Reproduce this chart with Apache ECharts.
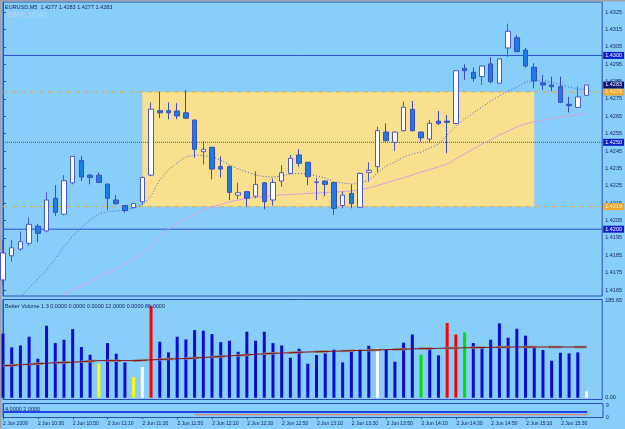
<!DOCTYPE html>
<html>
<head>
<meta charset="utf-8">
<script src="https://cdn.jsdelivr.net/npm/echarts@6/dist/echarts.min.js"></script>
<style>
html,body{margin:0;padding:0;background:#87cefa;}
#chart{width:625px;height:429px;}
</style>
</head>
<body>
<div id="chart"></div>
<script>
// EURUSD M5, 2 Jun 2009, one bar every 5 minutes from 10:10 to 15:45
const symbol = 'EURUSD,M5';
const gmtText = 'GMT: 16:45';
const timeLabels = ['2 Jun 2009','2 Jun 10:30','2 Jun 10:50','2 Jun 11:10','2 Jun 11:30','2 Jun 11:50',
  '2 Jun 12:10','2 Jun 12:30','2 Jun 12:50','2 Jun 13:10','2 Jun 13:30','2 Jun 13:50','2 Jun 14:10',
  '2 Jun 14:30','2 Jun 14:50','2 Jun 15:10','2 Jun 15:30'];
const barsPerLabel = 4;

const opens = [1.41708,1.41847,1.41886,1.41919,1.42017,1.41990,1.42178,1.42086,1.42267,1.42396,
  1.42311,1.42311,1.42260,1.42168,1.42136,1.42124,1.42158,1.42311,1.42682,1.42682,
  1.42680,1.42670,1.42628,1.42446,1.42471,1.42360,1.42360,1.42196,1.42216,1.42190,
  1.42267,1.42168,1.42277,1.42321,1.42427,1.42385,1.42269,1.42277,1.42269,1.42136,
  1.42206,1.42126,1.42327,1.42360,1.42559,1.42500,1.42567,1.42690,1.42559,1.42519,
  1.42622,1.42622,1.42608,1.42926,1.42903,1.42878,1.42951,1.42840,1.43043,1.43102,
  1.43031,1.42932,1.42843,1.42830,1.42820,1.42719,1.42701,1.42770];
const closes = [1.41863,1.41893,1.41928,1.42028,1.41976,1.42168,1.42097,1.42279,1.42419,1.42300,
  1.42298,1.42269,1.42178,1.42147,1.42107,1.42147,1.42298,1.42691,1.42670,1.42670,
  1.42652,1.42639,1.42460,1.42460,1.42346,1.42346,1.42212,1.42210,1.42178,1.42258,
  1.42158,1.42269,1.42325,1.42408,1.42379,1.42302,1.42272,1.42258,1.42120,1.42196,
  1.42147,1.42321,1.42339,1.42567,1.42509,1.42559,1.42702,1.42567,1.42526,1.42609,
  1.42609,1.42615,1.42912,1.42912,1.42868,1.42939,1.42849,1.42980,1.43139,1.43022,
  1.42939,1.42853,1.42830,1.42820,1.42730,1.42711,1.42761,1.42830];
const lows = [1.41679,1.41813,1.41876,1.41905,1.41925,1.41982,1.42077,1.42080,1.42258,1.42277,
  1.42258,1.42265,1.42110,1.42140,1.42095,1.42120,1.42143,1.42305,1.42639,1.42633,
  1.42633,1.42635,1.42411,1.42373,1.42287,1.42298,1.42168,1.42172,1.42129,1.42178,
  1.42114,1.42136,1.42245,1.42318,1.42360,1.42254,1.42168,1.42190,1.42082,1.42120,
  1.42120,1.42122,1.42273,1.42327,1.42505,1.42450,1.42563,1.42563,1.42503,1.42500,
  1.42600,1.42438,1.42605,1.42859,1.42849,1.42830,1.42840,1.42837,1.42991,1.43020,
  1.42929,1.42811,1.42801,1.42795,1.42726,1.42672,1.42698,1.42770];
const highs = [1.41938,1.41938,1.41986,1.42068,1.42030,1.42212,1.42254,1.42311,1.42420,1.42423,
  1.42318,1.42327,1.42262,1.42196,1.42140,1.42150,1.42302,1.42730,1.42791,1.42730,
  1.42725,1.42801,1.42632,1.42507,1.42475,1.42420,1.42366,1.42267,1.42220,1.42334,
  1.42270,1.42292,1.42369,1.42427,1.42460,1.42388,1.42296,1.42280,1.42272,1.42216,
  1.42258,1.42325,1.42385,1.42590,1.42609,1.42562,1.42734,1.42738,1.42562,1.42628,
  1.42680,1.42657,1.42915,1.42949,1.42930,1.42942,1.42989,1.42983,1.43183,1.43118,
  1.43044,1.42955,1.42887,1.42878,1.42878,1.42762,1.42820,1.42830];

// dotted blue moving average and violet moving average
const maFast = [null,null,1.41610,1.41662,1.41713,1.41765,1.41829,1.41898,1.41961,1.42007,
  1.42053,1.42088,1.42102,1.42105,1.42111,1.42122,1.42139,1.42191,1.42283,1.42341,
  1.42381,1.42416,1.42427,1.42424,1.42416,1.42398,1.42370,1.42347,1.42329,1.42312,
  1.42303,1.42300,1.42306,1.42318,1.42321,1.42318,1.42306,1.42295,1.42272,1.42266,
  1.42260,1.42263,1.42283,1.42323,1.42364,1.42387,1.42416,1.42433,1.42444,1.42467,
  1.42490,1.42542,1.42594,1.42634,1.42669,1.42703,1.42738,1.42767,1.42795,1.42818,
  1.42847,1.42853,1.42855,1.42847,1.42833,1.42818,1.42807,1.42804];
const maSlow = [null,null,null,null,null,null,null,1.41621,1.41650,1.41673,
  1.41696,1.41725,1.41748,1.41771,1.41800,1.41829,1.41857,1.41903,1.41955,1.42001,
  1.42030,1.42059,1.42088,1.42111,1.42128,1.42142,1.42157,1.42168,1.42177,1.42182,
  1.42188,1.42194,1.42197,1.42200,1.42203,1.42206,1.42208,1.42211,1.42214,1.42217,
  1.42220,1.42226,1.42237,1.42252,1.42266,1.42283,1.42295,1.42312,1.42329,1.42344,
  1.42358,1.42375,1.42404,1.42433,1.42462,1.42490,1.42513,1.42542,1.42565,1.42588,
  1.42605,1.42620,1.42628,1.42637,1.42646,1.42651,1.42660,1.42669];

const priceTicks = [1.4165,1.4175,1.4185,1.4195,1.4205,1.4215,1.4225,1.4235,1.4245,
  1.4255,1.4265,1.4275,1.4285,1.4295,1.4305,1.4315,1.4325];

// horizontal lines and the box drawn on the chart
const solidLevels = [1.4300, 1.4200];
const dottedLevels = [1.4250];
const boxHigh = 1.4279, boxLow = 1.4213;
const boxFrom = 16, boxTo = 61;

// Better Volume 1.3
const volumes = [122.5,96.3,100,116.8,74.6,137.8,104.6,111,131.4,97,
  82.3,65.1,104.6,84.2,67.6,39.6,58.7,176.1,107.2,86.8,
  116.8,111.6,129.5,128.2,121.9,106.5,109.1,88,126.3,109.1,
  126.3,104.6,100,76.6,93.8,65.1,81.7,84.8,91.9,67.6,
  88.6,91.9,99.5,95.1,91.9,68.9,105.3,121.2,82.3,93.2,
  81,143,121.2,125,104.7,97,111,142.2,114.8,132.1,
  118.7,97,91.3,70.8,86.1,84.8,86.8,12];
const volSpecial = {11:'low',15:'low',16:'climaxDown',17:'climaxUp',43:'climaxDown',
  48:'churn',51:'climaxUp',52:'climaxUp',53:'churn',67:'climaxDown'};
const volMA = [61,62,63,64,65,66,67,67.5,68,69,
  70,71,71,71,71,71,71.5,72.5,73,74,
  74.5,75,76,77,78,79,80,81,82,83,
  84,85,85.5,86,87,87.5,88,88.5,89,89.5,
  90,90.5,91,91.5,92,92.5,93,93.5,94,94,
  94.5,95,95,95.5,96,96,96.5,96.5,97,97,
  97,97,97,97,97,97,97,97];
const volTop = 185.65;
const volTitle = 'Better Volume 1.3 0.0000 0.0000 0.0000 12.0000 0.0000 86.0000';

// lower indicator
const sigA = [4,4,4,4,4,4,4,4,4,4, 4,4,4,4,4,4,4,4,4,4, 4,4,4,4,4,4,4,4,4,4,
  4,4,4,4,4,4,4,4,4,4, 4,4,4,4,4,4,4,4,4,4, 4,4,4,4,4,4,4,4,4,4, 4,4,4,4,4,4,4,4];
const sigB = [null,null,null,null,null,null,null,null,null,null, null,null,null,null,null,null,null,null,null,null,
  null,null,2,2,2,2,2,2,2,2, 2,2,2,2,2,2,2,2,2,2, 2,2,2,2,2,2,2,2,2,2,
  2,2,2,2,2,2,2,2,2,2, 2,2,2,2,2,2,2,2];
const sigTitle = '4.0000 2.0000';

const BG = '#87cefa', FRAME = '#2c4cc0', TXT = '#18206a';
const FONT = 'Liberation Sans';
const volColors = {normal:'#0a0ad2', low:'#ffff00', climaxUp:'#ff0000', climaxDown:'#ffffff', churn:'#00e000'};

const n = opens.length;
const candles = opens.map((o, i) => [i, o, closes[i], lows[i], highs[i]]);
const pts = arr => arr.map((v, i) => [i, v]);
const last = n - 1;
const header = symbol + '  ' + [opens[last], highs[last], lows[last], closes[last]].map(v => v.toFixed(4)).join(' ');

const X_MIN = 0, X_MAX = 68.8;
const xCommon = {type: 'value', min: X_MIN, max: X_MAX, show: false};

// a horizontal level across the whole price window, with its price box on the right
function levelSeries(v, line, boxBg, boxText, z) {
  return {
    type: 'line', xAxisIndex: 0, yAxisIndex: 0, z: z, silent: true, clip: false,
    showSymbol: false, symbol: 'none',
    data: [[X_MIN, v], [X_MAX, v]],
    lineStyle: line,
    endLabel: {show: true, distance: 1, formatter: () => v.toFixed(4),
      fontSize: 5.5, fontFamily: FONT, padding: [1, 2, 0, 2], backgroundColor: boxBg, color: boxText}
  };
}

const chart = echarts.init(document.getElementById('chart'), null, {renderer: 'canvas'});
chart.setOption({
  animation: false,
  backgroundColor: BG,
  grid: [
    {left: 3, top: 2, width: 600, height: 294, show: true, backgroundColor: BG, borderColor: FRAME, borderWidth: 1},
    {left: 3, top: 299.5, width: 600, height: 100, show: true, backgroundColor: BG, borderColor: FRAME, borderWidth: 1},
    {left: 3, top: 403.5, width: 600, height: 14, show: true, backgroundColor: BG, borderColor: FRAME, borderWidth: 1}
  ],
  xAxis: [
    Object.assign({gridIndex: 0}, xCommon),
    Object.assign({gridIndex: 1}, xCommon),
    {
      gridIndex: 2, type: 'value', min: X_MIN, max: X_MAX,
      axisLine: {show: false},
      splitLine: {show: false},
      axisTick: {show: true, length: 2, lineStyle: {color: FRAME},
        customValues: timeLabels.map((t, k) => k * barsPerLabel)},
      axisLabel: {
        customValues: timeLabels.map((t, k) => k * barsPerLabel),
        formatter: v => timeLabels[Math.round(v / barsPerLabel)],
        align: 'left', margin: 4, fontSize: 5, fontFamily: FONT, color: TXT, showMinLabel: true
      }
    }
  ],
  yAxis: [
    {
      gridIndex: 0, type: 'value', position: 'right', min: 1.416155, max: 1.433076,
      axisLine: {show: true, lineStyle: {color: FRAME}},
      splitLine: {show: false},
      axisTick: {show: true, length: 3, customValues: priceTicks, lineStyle: {color: FRAME}},
      axisLabel: {customValues: priceTicks, formatter: v => v.toFixed(4), margin: 3,
        fontSize: 5.5, fontFamily: FONT, color: TXT}
    },
    {
      gridIndex: 1, type: 'value', position: 'right', min: -3.4, max: 188,
      axisLine: {show: true, lineStyle: {color: FRAME}},
      splitLine: {show: false},
      axisTick: {show: false},
      axisLabel: {customValues: [0, volTop], formatter: v => v.toFixed(2), margin: 3,
        fontSize: 5.5, fontFamily: FONT, color: TXT}
    },
    {
      gridIndex: 2, type: 'value', position: 'right', min: -0.1, max: 10.3,
      axisLine: {show: true, lineStyle: {color: FRAME}},
      splitLine: {show: false},
      axisTick: {show: false},
      axisLabel: {customValues: [0, 9], margin: 3, fontSize: 5, fontFamily: FONT, color: TXT}
    }
  ],
  series: [
    // box edges sit under the filled box, the other levels above it
    ...[boxHigh, boxLow].map(v => levelSeries(v, {color: '#e8a848', type: [5, 4], width: 1}, '#f0a830', '#fff4d0', 1)),
    {
      type: 'line', xAxisIndex: 0, yAxisIndex: 0, data: [], z: 1.5,
      markArea: {silent: true, itemStyle: {color: '#f8e08e', opacity: 1},
        data: [[{xAxis: boxFrom, yAxis: boxHigh}, {xAxis: boxTo, yAxis: boxLow}]]}
    },
    ...solidLevels.map(v => levelSeries(v, {color: '#2a4ed0', type: 'solid', width: 1}, '#0c1ed0', '#ffffff', 2)),
    ...dottedLevels.map(v => levelSeries(v, {color: '#2a4ed0', type: 'dotted', width: 1}, '#0c1ed0', '#ffffff', 2)),
    levelSeries(closes[last], {opacity: 0}, '#0a1470', '#ffffff', 2),
    {
      type: 'line', xAxisIndex: 0, yAxisIndex: 0, data: pts(maSlow), z: 3,
      showSymbol: false, lineStyle: {color: '#d8a0dc', width: 1}
    },
    {
      type: 'line', xAxisIndex: 0, yAxisIndex: 0, data: pts(maFast), z: 3,
      showSymbol: false, lineStyle: {color: '#3a5ad8', width: 1, type: [1, 2]}
    },
    {
      type: 'candlestick', xAxisIndex: 0, yAxisIndex: 0, data: candles, z: 5,
      barWidth: 5,
      itemStyle: {color: '#ffffff', color0: '#1c7ce8', borderColor: '#4a58c8', borderColor0: '#3a4cc0', borderWidth: 1}
    },
    {
      type: 'bar', xAxisIndex: 1, yAxisIndex: 1, barWidth: 3, z: 3,
      data: volumes.map((v, i) => ({value: [i, v], itemStyle: {color: volColors[volSpecial[i] || 'normal']}}))
    },
    {
      type: 'line', xAxisIndex: 1, yAxisIndex: 1, data: pts(volMA), z: 4,
      showSymbol: false, lineStyle: {color: '#8c8c8c', width: 2.5, type: [14, 12]}
    },
    {
      type: 'line', xAxisIndex: 1, yAxisIndex: 1, data: pts(volMA), z: 5,
      showSymbol: false, lineStyle: {color: '#8a0c0c', width: 1}
    },
    {
      type: 'line', xAxisIndex: 2, yAxisIndex: 2, data: pts(sigA), z: 3,
      showSymbol: false, lineStyle: {color: '#2040e8', width: 2}
    },
    {
      type: 'line', xAxisIndex: 2, yAxisIndex: 2, data: pts(sigB), z: 4,
      showSymbol: false, lineStyle: {color: '#f07050', width: 1}
    }
  ],
  graphic: [
    {type: 'rect', left: 0, top: 0, shape: {width: 625, height: 1.5}, style: {fill: '#a0a0a8'}, silent: true},
    {type: 'rect', left: 0, top: 0, shape: {width: 1.5, height: 429}, style: {fill: '#a0a0a8'}, silent: true},
    {type: 'text', left: 5, top: 4, z: 10, style: {text: header, font: '5.5px "Liberation Sans"', fill: TXT}},
    {type: 'text', left: 8, top: 11, z: 10, style: {text: gmtText, font: '7.5px "Liberation Sans"', fill: '#c4d4e4'}},
    {type: 'text', left: 5, top: 303, z: 10, style: {text: volTitle, font: '5.5px "Liberation Sans"', fill: TXT}},
    {type: 'text', left: 5, top: 406, z: 10, style: {text: sigTitle, font: '5.5px "Liberation Sans"', fill: TXT}}
  ]
});
</script>
</body>
</html>
